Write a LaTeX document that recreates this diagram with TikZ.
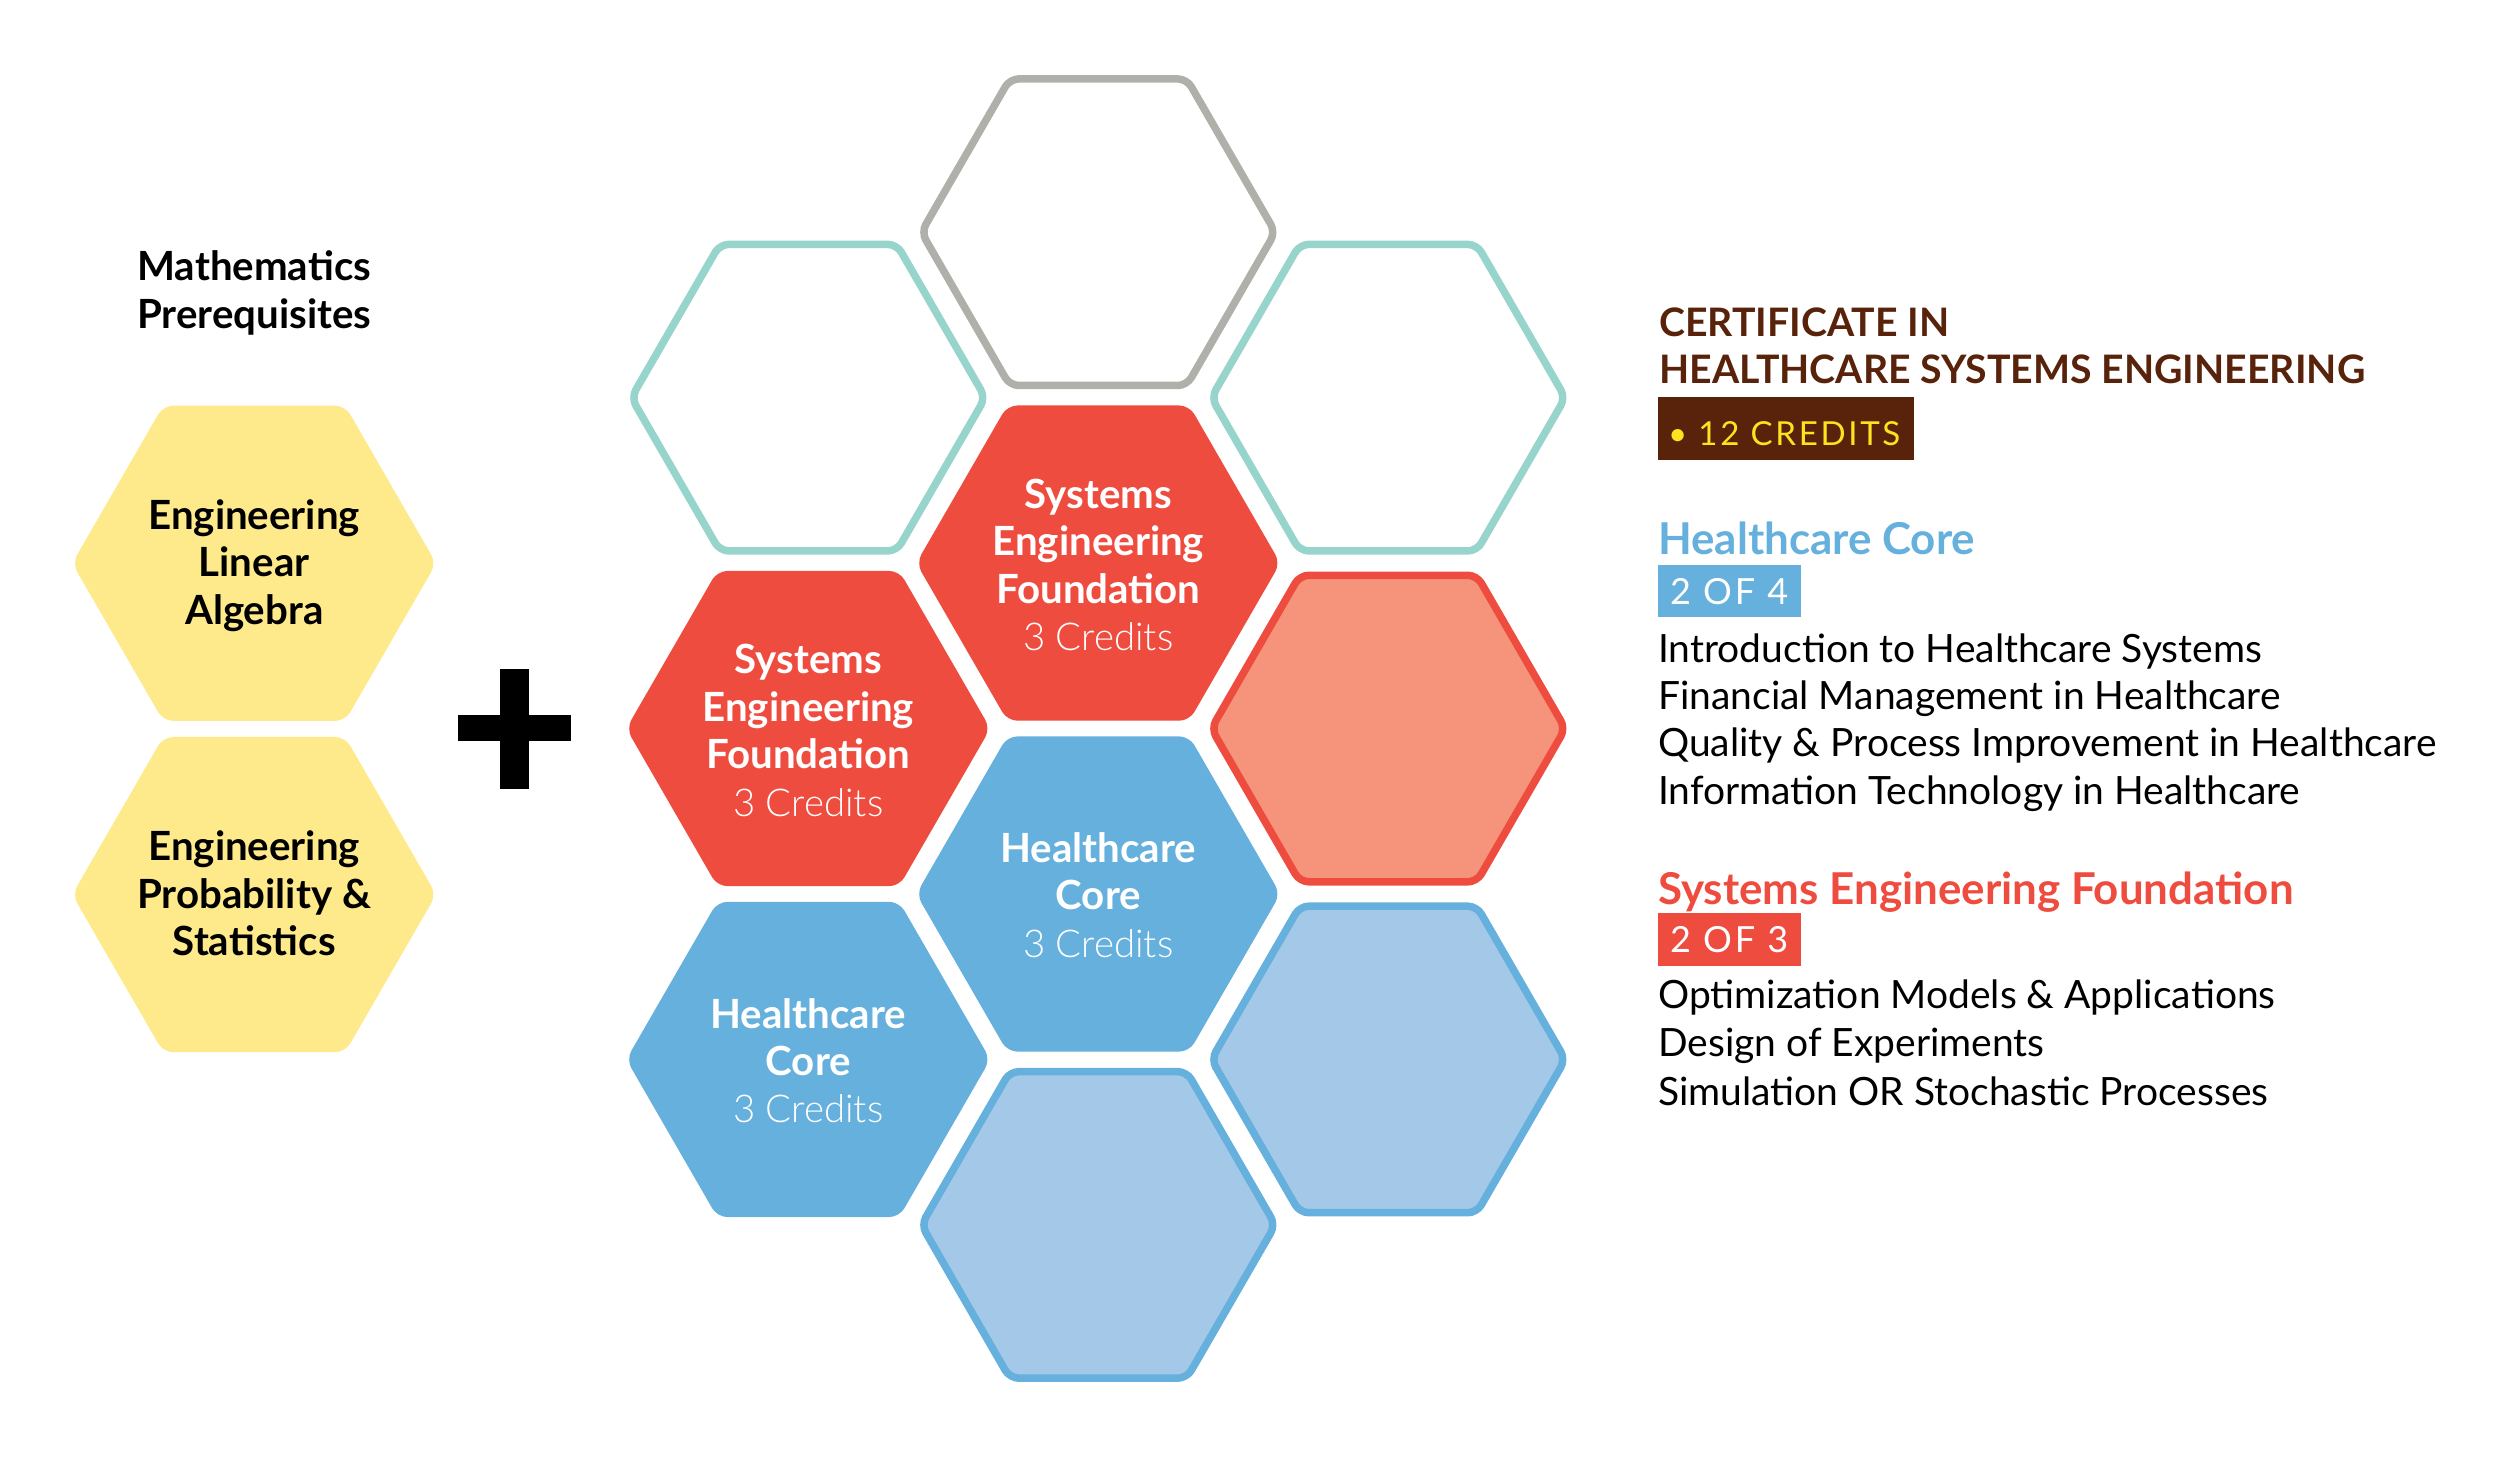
\documentclass[tikz,border=0pt]{standalone}
\usepackage{fontspec}
\setmainfont{Lato}
\IfFontExistsTF{Lato Light}{\newfontfamily\lightfont{Lato Light}}{\newfontfamily\lightfont{Lato}}
\newfontfamily\spacedfont[LetterSpace=8]{Lato}
\definecolor{hyellow}{HTML}{FEEA8A}
\definecolor{hred}{HTML}{EF4C40}
\definecolor{hsalmon}{HTML}{F5947A}
\definecolor{hblue}{HTML}{65B0DC}
\definecolor{hlblue}{HTML}{A3C8E8}
\definecolor{hteal}{HTML}{96D4CC}
\definecolor{hgray}{HTML}{B0B0AA}
\definecolor{hbrown}{HTML}{58230A}
\definecolor{hgold}{HTML}{FFE21E}
\newlength\fitw
\newcommand\fitsize[4]{\settowidth\fitw{\fontsize{10pt}{12pt}\selectfont#2#3}\pgfmathsetmacro#1{#4/\fitw*10}}
\newcommand\hexp[3]{({#1+#3},{#2}) -- ({#1+0.5*#3},{#2+0.8660254*#3}) -- ({#1-0.5*#3},{#2+0.8660254*#3}) -- ({#1-#3},{#2}) -- ({#1-0.5*#3},{#2-0.8660254*#3}) -- ({#1+0.5*#3},{#2-0.8660254*#3}) -- cycle}
\newcommand\fB{\fontsize{\szB pt}{\szB pt}\selectfont\bfseries}
\newcommand\fL{\fontsize{\szL pt}{\szL pt}\selectfont\lightfont}
\newcommand\fR{\fontsize{\szR pt}{\szR pt}\selectfont}
\newcommand\fH{\fontsize{\szH pt}{\szH pt}\selectfont\bfseries}
\newcommand\fC{\fontsize{\szC pt}{\szC pt}\selectfont\bfseries}
\newcommand\fS{\fontsize{\szS pt}{\szS pt}\selectfont\spacedfont}
\newcommand\fT{\fontsize{\szT pt}{\szT pt}\selectfont\spacedfont}
\tikzset{
  hexfill/.style={fill=#1, rounded corners=10pt},
  hexline/.style={draw=#1, line width=7.5pt, rounded corners=9pt},
  txt/.style={inner sep=0pt, anchor=base},
  ltxt/.style={inner sep=0pt, anchor=base west},
}
\begin{document}%
\fitsize\szB{\bfseries}{Engineering}{211.7}%
\fitsize\szL{\lightfont}{3 Credits}{150}%
\fitsize\szR{}{Quality \& Process Improvement in Healthcare}{778.3}%
\fitsize\szH{\bfseries}{Healthcare Core}{317}%
\fitsize\szC{\bfseries}{HEALTHCARE SYSTEMS ENGINEERING}{706}%
\fitsize\szS{\spacedfont}{2 OF 4}{118}%
\fitsize\szT{\spacedfont}{• 12 CREDITS}{232}%
\begin{tikzpicture}[x=1pt,y=-1pt]
\useasboundingbox (0,0) rectangle (2500,1458);

% ---- yellow prerequisite hexagons
\path[hexfill=hyellow] \hexp{254.2}{563.3}{182};
\path[hexfill=hyellow] \hexp{254.2}{894.6}{182};
\node[txt, font=\fB] (m1) at (254.2,280) {Mathematics};
\node[txt, font=\fB] (m2) at (254.2,328.3) {Prerequisites};
\node[txt, font=\fB] (y1a) at (254.2,529.3) {Engineering};
\node[txt, font=\fB] (y1b) at (254.2,576.7) {Linear};
\node[txt, font=\fB] (y1c) at (254.2,624.0) {Algebra};
\node[txt, font=\fB] (y2a) at (254.2,860.6) {Engineering};
\node[txt, font=\fB] (y2b) at (254.2,908.0) {Probability \&};
\node[txt, font=\fB] (y2c) at (254.2,955.3) {Statistics};

% ---- plus sign
\fill (500,668.7) rectangle (529.3,789.3);
\fill (458,715) rectangle (571.3,741);

% ---- honeycomb
\path[hexline=hgray] \hexp{1098.3}{232.2}{177};
\path[hexline=hteal] \hexp{808.3}{397.65}{177};
\path[hexline=hteal] \hexp{1388.3}{397.65}{177};
\path[hexfill=hred] \hexp{1098.3}{563.1}{182};
\path[hexfill=hred] \hexp{808.3}{728.55}{182};
\path[hexline=hred, fill=hsalmon] \hexp{1388.3}{728.55}{177};
\path[hexfill=hblue] \hexp{1098.3}{894}{182};
\path[hexfill=hblue] \hexp{808.3}{1059.45}{182};
\path[hexline=hblue, fill=hlblue] \hexp{1388.3}{1059.45}{177};
\path[hexline=hblue, fill=hlblue] \hexp{1098.3}{1224.9}{177};

\begin{scope}[every node/.append style={text=white}]
\node[txt, font=\fB] (r1a) at (1098.3,508.1) {Systems};
\node[txt, font=\fB] (r1b) at (1098.3,555.6) {Engineering};
\node[txt, font=\fB] (r1c) at (1098.3,603.1) {Foundation};
\node[txt, font=\fL] (r1d) at (1098.3,650.6) {3 Credits};
\node[txt, font=\fB] (r2a) at (808.3,673.55) {Systems};
\node[txt, font=\fB] (r2b) at (808.3,721.05) {Engineering};
\node[txt, font=\fB] (r2c) at (808.3,768.55) {Foundation};
\node[txt, font=\fL] (r2d) at (808.3,816.05) {3 Credits};
\node[txt, font=\fB] (b1a) at (1098.3,862.8) {Healthcare};
\node[txt, font=\fB] (b1b) at (1098.3,909.5) {Core};
\node[txt, font=\fL] (b1c) at (1098.3,957.2) {3 Credits};
\node[txt, font=\fB] (b2a) at (808.3,1028.3) {Healthcare};
\node[txt, font=\fB] (b2b) at (808.3,1075) {Core};
\node[txt, font=\fL] (b2c) at (808.3,1122.7) {3 Credits};
\end{scope}

% ---- right column
\node[ltxt, font=\fC, text=hbrown] (c1) at (1659,336) {CERTIFICATE IN};
\node[ltxt, font=\fC, text=hbrown] (c2) at (1659,383.3) {HEALTHCARE SYSTEMS ENGINEERING};
\fill[hbrown] (1658,397) rectangle (1914,460);
\node[ltxt, font=\fT, text=hgold] (cr) at (1668,445.7) {• 12 CREDITS};

\node[ltxt, font=\fH, text=hblue] (hc) at (1658,554.3) {Healthcare Core};
\fill[hblue] (1658.3,565) rectangle (1801,616.7);
\node[ltxt, font=\fS, text=white] (hcn) at (1670,604) {2 OF 4};
\node[ltxt, font=\fR] (h1) at (1658,662.3) {Introduction to Healthcare Systems};
\node[ltxt, font=\fR] (h2) at (1658,709.3) {Financial Management in Healthcare};
\node[ltxt, font=\fR] (h3) at (1658,756.7) {Quality \& Process Improvement in Healthcare};
\node[ltxt, font=\fR] (h4) at (1658,804) {Information Technology in Healthcare};

\node[ltxt, font=\fH, text=hred] (sf) at (1658,904.3) {Systems Engineering Foundation};
\fill[hred] (1658.3,913.3) rectangle (1801,966);
\node[ltxt, font=\fS, text=white] (sfn) at (1670,952.3) {2 OF 3};
\node[ltxt, font=\fR] (s1) at (1658,1008.3) {Optimization Models \& Applications};
\node[ltxt, font=\fR] (s2) at (1658,1056.7) {Design of Experiments};
\node[ltxt, font=\fR] (s3) at (1658,1105) {Simulation OR Stochastic Processes};
\end{tikzpicture}
\end{document}
